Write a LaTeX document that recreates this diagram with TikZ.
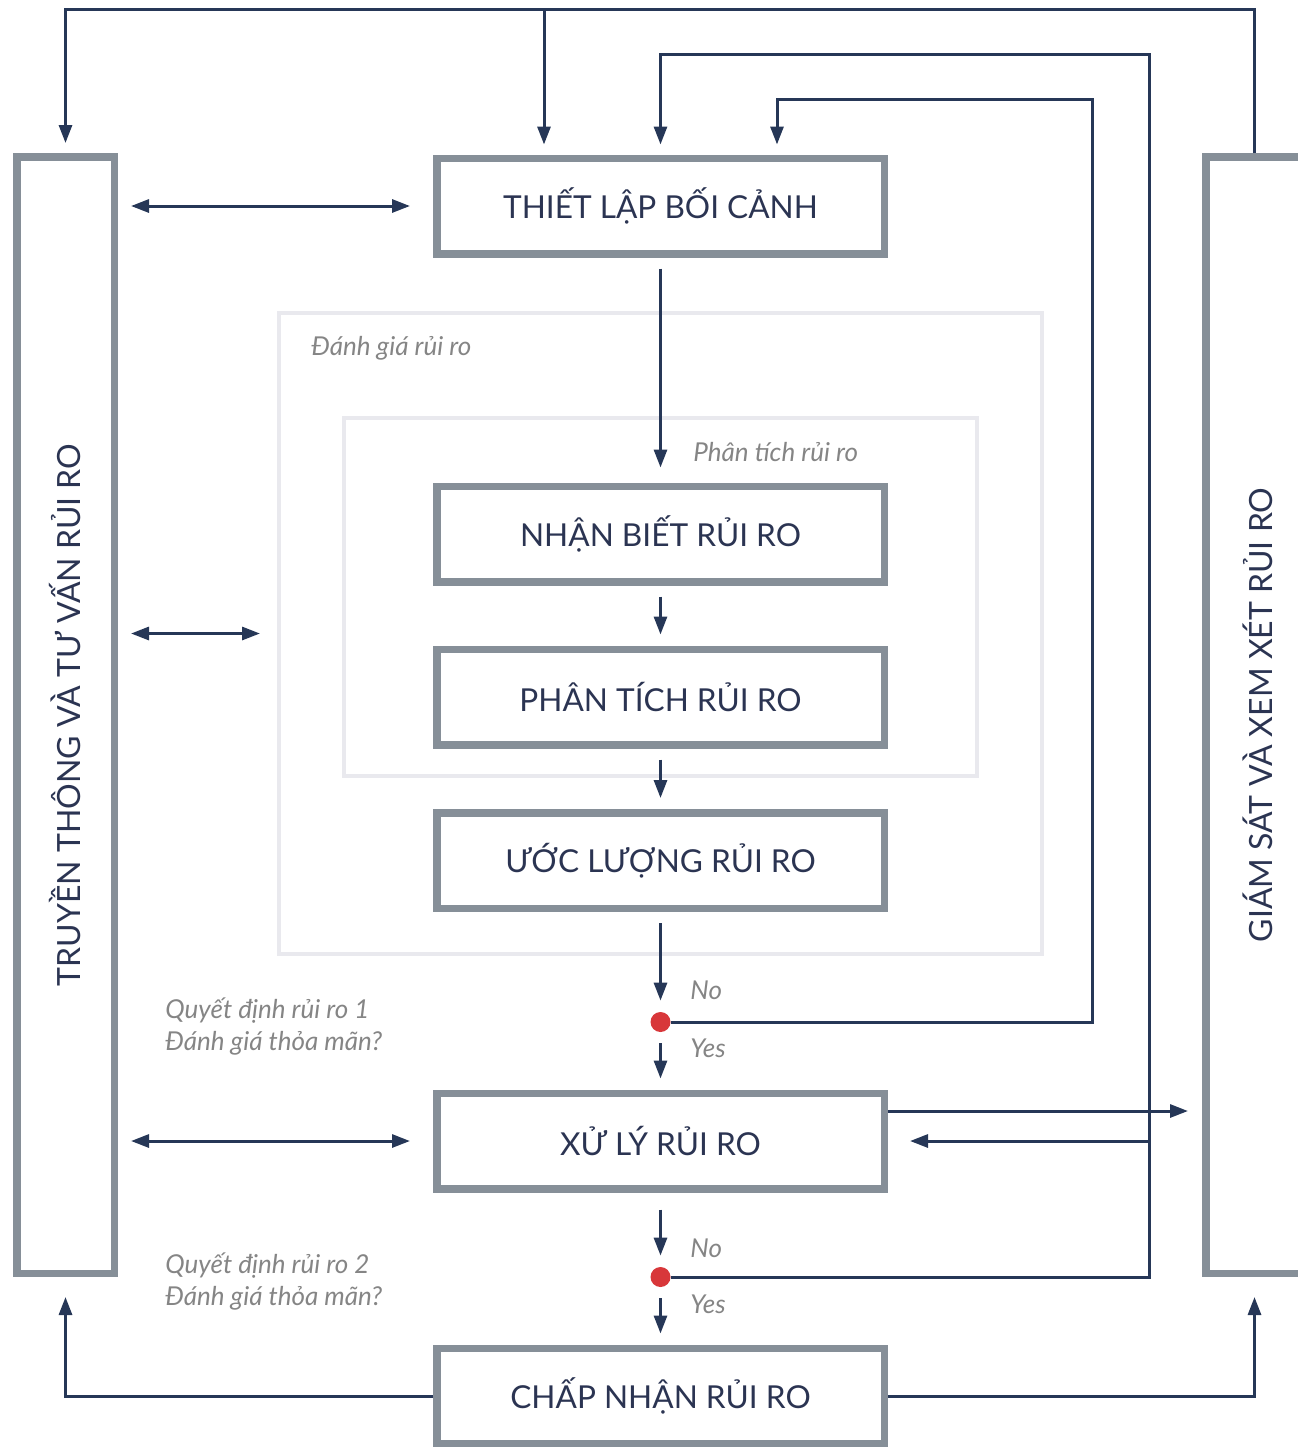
\documentclass[tikz,border=0pt]{standalone}
\usepackage{fontspec}
\setmainfont{Lato}
\usetikzlibrary{arrows.meta}

\definecolor{navy}{HTML}{263757}
\definecolor{boxgrey}{HTML}{868F98}
\definecolor{framegrey}{HTML}{E9E9EE}
\definecolor{notegrey}{HTML}{858585}
\definecolor{dotred}{HTML}{D8373A}
\definecolor{ink}{HTML}{2B3452}

\begin{document}
\begin{tikzpicture}[x=0.5pt, y=-0.5pt,
	box/.style={draw=boxgrey, line width=3.75pt, minimum width=223.75pt, minimum height=47.75pt, inner sep=0pt, text=ink, font=\fontsize{15.8}{19}\selectfont},
	sidebox/.style={draw=boxgrey, line width=3.75pt, minimum width=48.75pt, minimum height=558.25pt, inner sep=0pt},
	sidetext/.style={text=ink, font=\fontsize{16}{19}\selectfont, rotate=90},
	frame/.style={draw=framegrey, line width=2pt, inner sep=0pt},
	note/.style={text=notegrey, font=\itshape\fontsize{13}{16}\selectfont, inner sep=0pt, align=left},
	dot/.style={circle, fill=dotred, minimum size=10pt, inner sep=0pt},
	flow/.style={draw=navy, line width=1.5pt, -{Triangle[length=9pt,width=6.5pt]}},
	both/.style={draw=navy, line width=1.5pt, {Triangle[length=9pt,width=6.5pt]}-{Triangle[length=9pt,width=6.5pt]}},
	gap/.style={shorten <=5.5pt, shorten >=5.5pt}]
	\useasboundingbox (0,0) rectangle (1297,1447);

	\node[frame, minimum width=381.5pt, minimum height=320.5pt] (assess) at (660.5,633.5) {};
	\node[frame, minimum width=316.5pt, minimum height=179pt] (analyse) at (660.5,597) {};
	\node[note, anchor=west] (assesslbl) at (311,348) {Đánh giá rủi ro};
	\node[note, anchor=west] (analyselbl) at (693,452) {Phân tích rủi ro};

	\node[sidebox] (left) at (65.5,715) {};
	\node[sidetext] (lefttxt) at (left) {TRUYỀN THÔNG VÀ TƯ VẤN RỦI RO};
	\node[sidebox] (right) at (1254.5,715) {};
	\node[sidetext] (righttxt) at (1258,715) {GIÁM SÁT VÀ XEM XÉT RỦI RO};

	\node[box] (thiet) at (660.5,206) {THIẾT LẬP BỐI CẢNH};
	\node[box] (nhan) at (660.5,534) {NHẬN BIẾT RỦI RO};
	\node[box] (phan) at (660.5,697) {PHÂN TÍCH RỦI RO};
	\node[box] (uoc) at (660.5,860.5) {ƯỚC LƯỢNG RỦI RO};
	\node[box] (xuly) at (660.5,1141) {XỬ LÝ RỦI RO};
	\node[box] (chap) at (660.5,1396) {CHẤP NHẬN RỦI RO};

	\node[dot] (d1) at (660.5,1022) {};
	\node[dot] (d2) at (660.5,1277) {};

	\node[note, anchor=west] (q1) at (165,1027) {Quyết định rủi ro 1\\Đánh giá thỏa mãn?};
	\node[note, anchor=west] (q2) at (165,1282) {Quyết định rủi ro 2\\Đánh giá thỏa mãn?};
	\node[note, anchor=west] (no1) at (690,990) {No};
	\node[note, anchor=west] (yes1) at (690,1048) {Yes};
	\node[note, anchor=west] (no2) at (690,1248) {No};
	\node[note, anchor=west] (yes2) at (690,1304) {Yes};

	% main chain
	\draw[flow, gap, shorten >=7.5pt] (thiet) -- (nhan);
	\draw[flow, gap] (nhan) -- (phan);
	\draw[flow, gap] (phan) -- (uoc);
	\draw[flow, gap] (uoc) -- (d1);
	\draw[flow, gap] (d1) -- (xuly);
	\draw[flow, gap, shorten <=8.5pt] (xuly) -- (d2);
	\draw[flow, gap] (d2) -- (chap);

	% feedback loops
	\draw[flow, shorten >=5pt] (right.north) |- (65.5,9) -- (left.north);
	\draw[flow, shorten >=5pt] (544,9) -- ([xshift=-58.25pt]thiet.north);
	\draw[flow, shorten >=5pt] (d2.east) -| (1149.5,54) -| (thiet.north);
	\draw[flow, shorten >=11pt] (1149.5,1141) -- (xuly.east);
	\draw[flow, shorten >=5pt] (d1.east) -| (1092.5,99) -| ([xshift=58.25pt]thiet.north);

	\coordinate (xout) at ([yshift=15pt]xuly.east);
	\draw[flow, shorten >=7pt] (xout) -- (xout -| right.west);

	\draw[flow, shorten >=10pt] (chap.west) -| (left.south);
	\draw[flow, shorten >=10pt] (chap.east) -| (right.south);

	% communication links
	\draw[both, shorten <=6.5pt, shorten >=11.5pt] (left.east |- thiet.west) -- (thiet.west);
	\draw[both, shorten <=6.5pt, shorten >=8.5pt] (left.east |- assess.west) -- (assess.west);
	\draw[both, shorten <=6.5pt, shorten >=11.5pt] (left.east |- xuly.west) -- (xuly.west);
\end{tikzpicture}
\end{document}
